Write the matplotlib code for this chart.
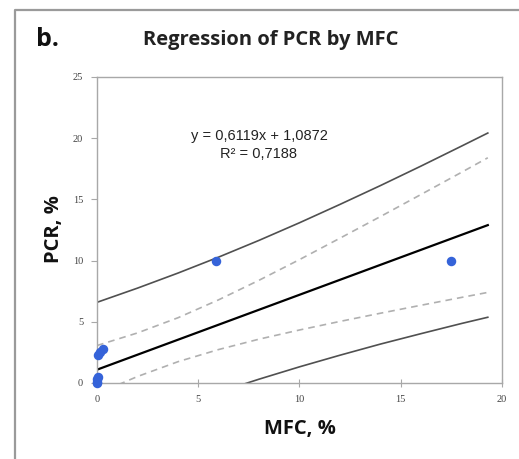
import matplotlib
matplotlib.use("Agg")
import matplotlib.pyplot as plt
from matplotlib.lines import Line2D

# observed points
mfc = [0.0, 0.0, 0.05, 0.0, 0.05, 0.15, 0.3, 5.9, 17.5]
pcr = [0.0, 0.3, 0.5, 0.1, 2.3, 2.5, 2.75, 10.0, 10.0]

# regression and bands
slope, intercept = 0.6119, 1.0872
band_x = [0, 2, 4, 6, 8, 10, 12, 14, 16, 18, 19.3]
ci_up = [3.06, 4.09, 5.33, 6.79, 8.39, 10.08, 11.83, 13.60, 15.40, 17.21, 18.40]
ci_lo = [-0.88, 0.53, 1.74, 2.73, 3.58, 4.33, 5.03, 5.70, 6.35, 6.99, 7.40]
pi_up = [6.59, 7.75, 8.98, 10.28, 11.65, 13.09, 14.59, 16.13, 17.72, 19.35, 20.42]
pi_lo = [-4.41, -3.12, -1.91, -0.76, 0.31, 1.32, 2.27, 3.18, 4.03, 4.86, 5.37]
reg_x = [0, 19.3]
reg_y = [slope * v + intercept for v in reg_x]

fig = plt.figure(figsize=(5.19, 4.59), dpi=100)
ax = fig.add_axes([0.1869, 0.1656, 0.7803, 0.6667])

ax.plot(band_x, pi_up, color='#505050', lw=1.2)
ax.plot(band_x, pi_lo, color='#505050', lw=1.2)
ax.plot(band_x, ci_up, color='#b0b0b0', lw=1.2, ls=(0, (4, 3)))
ax.plot(band_x, ci_lo, color='#b0b0b0', lw=1.2, ls=(0, (4, 3)))
ax.plot(reg_x, reg_y, color='black', lw=1.6)
ax.scatter(mfc, pcr, s=34, color='#3563d9', zorder=5, clip_on=False)

ax.set_xlim(0, 20)
ax.set_ylim(0, 25)
ax.set_xticks([0, 5, 10, 15, 20])
ax.set_yticks([0, 5, 10, 15, 20, 25])
for s in ax.spines.values():
    s.set_color('#a8a8a8')
    s.set_linewidth(1.0)
ax.tick_params(axis='x', direction='inout', length=6, color='#a8a8a8', pad=6,
               labelsize=7.5, labelcolor='#444444')
ax.tick_params(axis='y', direction='out', length=4, color='#a8a8a8', pad=6,
               labelsize=7.5, labelcolor='#444444')
for lab in ax.get_xticklabels() + ax.get_yticklabels():
    lab.set_family('Liberation Serif')

ax.text(0.40, 0.808, 'y = 0,6119x + 1,0872', transform=ax.transAxes,
        ha='center', va='center', fontsize=10.5, family='Liberation Sans', color='#222222')
ax.text(0.40, 0.749, 'R² = 0,7188', transform=ax.transAxes,
        ha='center', va='center', fontsize=10.5, family='Liberation Sans', color='#222222')

fig.text(0.521, 0.913, 'Regression of PCR by MFC', ha='center', va='center',
         fontsize=14.5, fontweight='bold', family='Open Sans', color='#222222')
fig.text(0.070, 0.915, 'b.', ha='left', va='center', fontsize=18,
         fontweight='bold', family='Open Sans', color='#111111')
fig.text(0.578, 0.065, 'MFC, %', ha='center', va='center', fontsize=14.5,
         fontweight='bold', family='Open Sans', color='#111111')
fig.text(0.105, 0.501, 'PCR, %', ha='center', va='center', rotation=90,
         fontsize=14.5, fontweight='bold', family='Open Sans', color='#111111')

# outer frame (top and left edges)
fig.add_artist(Line2D([0.029, 0.029, 1.0], [0.0, 0.978, 0.978],
                      transform=fig.transFigure, color='#9a9a9a', lw=1.6))

fig.savefig('out.png', dpi=100)
